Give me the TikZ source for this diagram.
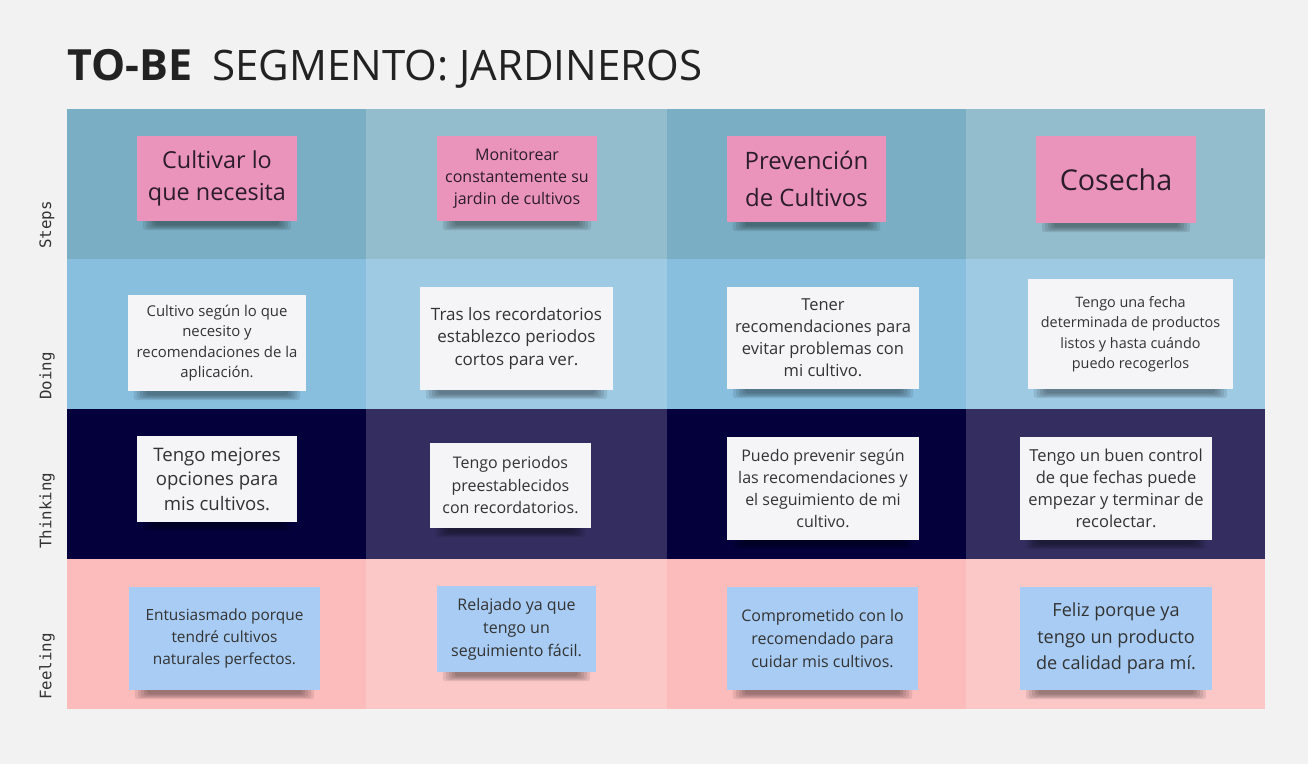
\documentclass[tikz,border=0pt]{standalone}
\usepackage{fontspec}
\setmainfont{Open Sans}
\newfontfamily\labelfont{DejaVu Sans Mono}
\pgfdeclarelayer{cells}
\pgfdeclarelayer{shadows}
\pgfsetlayers{cells,shadows,main}
\definecolor{pagebg}{HTML}{F2F2F2}
\definecolor{stepA}{HTML}{7AAEC4}
\definecolor{stepB}{HTML}{93BCCD}
\definecolor{doA}{HTML}{88BFDF}
\definecolor{doB}{HTML}{9ECAE3}
\definecolor{thA}{HTML}{04003C}
\definecolor{thB}{HTML}{332E5F}
\definecolor{feA}{HTML}{FDBCBC}
\definecolor{feB}{HTML}{FBC8C7}
\definecolor{pinknote}{HTML}{EA94BB}
\definecolor{whitenote}{HTML}{F5F5F7}
\definecolor{bluenote}{HTML}{A8CCF3}
\definecolor{notetext}{HTML}{333333}
\definecolor{steptext}{HTML}{2B1C2B}
\definecolor{titletext}{HTML}{222222}
\tikzset{
  note/.style={inner sep=0pt, align=center, text=notetext},
  pinkst/.style={note, fill=pinknote, text=steptext},
  whitest/.style={note, fill=whitenote},
  bluest/.style={note, fill=bluenote},
  rowlabel/.style={rotate=90, anchor=west, inner sep=0pt, text=notetext,
    font=\labelfont\fontsize{15.8}{17}\selectfont},
  titlestyle/.style={anchor=base west, inner sep=0pt, text=titletext},
  shadowA/.style={black, opacity=0.09, rounded corners=3pt},
}
\newcommand{\fs}[2]{\fontsize{#1}{#2}\selectfont}
\begin{document}
\begin{tikzpicture}[x=1pt,y=-1pt]
\begin{pgfonlayer}{cells}
\fill[pagebg] (0,0) rectangle (1308,764);
\foreach \xa/\xb/\ca/\cb/\cc/\cd in {67/366/stepA/doA/thA/feA, 366/667/stepB/doB/thB/feB, 667/966/stepA/doA/thA/feA, 966/1265/stepB/doB/thB/feB}{
  \fill[\ca] (\xa,109) rectangle (\xb,259);
  \fill[\cb] (\xa,259) rectangle (\xb,409);
  \fill[\cc] (\xa,409) rectangle (\xb,559);
  \fill[\cd] (\xa,559) rectangle (\xb,709);
}
\end{pgfonlayer}
\useasboundingbox (0,0) rectangle (1308,764);

% title
\node[titlestyle, font=\bfseries\fs{43}{50}] (tobe) at (67,80) {TO-BE};
\node[titlestyle, font=\fs{42}{50}] (seg) at (212,80) {SEGMENTO: JARDINEROS};

% row labels
\node[rowlabel] (lsteps) at (47,249) {Steps};
\node[rowlabel] (ldoing) at (47,400) {Doing};
\node[rowlabel] (lthinking) at (47,549) {Thinking};
\node[rowlabel] (lfeeling) at (47,700) {Feeling};

% steps
\node[pinkst, minimum width=160pt, minimum height=85pt, font=\fs{23.4}{32}] (s1) at (217,178.5) {Cultivar lo\\que necesita};
\node[pinkst, minimum width=160pt, minimum height=85pt, font=\fs{16}{22}] (s2) at (517,178.5) {Monitorear\\constantemente su\\jardin de cultivos};
\node[pinkst, minimum width=159pt, minimum height=86pt, font=\fs{24}{37}] (s3) at (806.5,179) {Prevención\\de Cultivos};
\node[pinkst, minimum width=160pt, minimum height=87pt, font=\fs{28.7}{36}] (s4) at (1116,179.5) {Cosecha};

% doing
\node[whitest, minimum width=178pt, minimum height=96pt, font=\fs{14.9}{20.5}] (d1) at (217,343) {Cultivo según lo que\\necesito y\\recomendaciones de la\\aplicación.};
\node[whitest, minimum width=193pt, minimum height=103pt, font=\fs{17}{22.5}] (d2) at (516.5,338.5) {Tras los recordatorios\\establezco periodos\\cortos para ver.};
\node[whitest, minimum width=192pt, minimum height=102pt, font=\fs{16.5}{22}] (d3) at (823,338) {Tener\\recomendaciones para\\evitar problemas con\\mi cultivo.};
\node[whitest, minimum width=205pt, minimum height=110pt, font=\fs{14.4}{20.5}] (d4) at (1130.5,334) {Tengo una fecha\\determinada de productos\\listos y hasta cuándo\\puedo recogerlos};

% thinking
\node[whitest, minimum width=160pt, minimum height=86pt, font=\fs{18.6}{24.5}] (t1) at (217,479) {Tengo mejores\\opciones para\\mis cultivos.};
\node[whitest, minimum width=161pt, minimum height=85pt, font=\fs{16}{22.5}] (t2) at (510.5,485.5) {Tengo periodos\\preestablecidos\\con recordatorios.};
\node[whitest, minimum width=192pt, minimum height=103pt, font=\fs{16}{22}] (t3) at (823,488.5) {Puedo prevenir según\\las recomendaciones y\\el seguimiento de mi\\cultivo.};
\node[whitest, minimum width=192pt, minimum height=103pt, font=\fs{16.5}{22}] (t4) at (1116,488.5) {Tengo un buen control\\de que fechas puede\\empezar y terminar de\\recolectar.};

% feeling
\node[bluest, minimum width=191pt, minimum height=103pt, font=\fs{15.4}{22}] (f1) at (224.5,638.5) {Entusiasmado porque\\tendré cultivos\\naturales perfectos.};
\node[bluest, minimum width=159pt, minimum height=86pt, font=\fs{16}{23}] (f2) at (516.5,629) {Relajado ya que\\tengo un\\seguimiento fácil.};
\node[bluest, minimum width=191pt, minimum height=103pt, font=\fs{16}{23}] (f3) at (822.5,638.5) {Comprometido con lo\\recomendado para\\cuidar mis cultivos.};
\node[bluest, minimum width=192pt, minimum height=103pt, font=\fs{18.1}{26.5}] (f4) at (1116,638.5) {Feliz porque ya\\tengo un producto\\de calidad para mí.};

% shadows
\begin{pgfonlayer}{shadows}
\foreach \n in {s1,s2,s3,s4,d1,d2,d3,d4,t1,t2,t3,t4,f1,f2,f3,f4}{
  \foreach \k in {0,1,2,3,4}{
    \fill[shadowA] ([xshift={6pt+3*\k pt},yshift=2pt]\n.south west) rectangle ([xshift={-6pt-3*\k pt},yshift={-9pt+1.2*\k pt}]\n.south east);
  }
}
\end{pgfonlayer}
\end{tikzpicture}
\end{document}
